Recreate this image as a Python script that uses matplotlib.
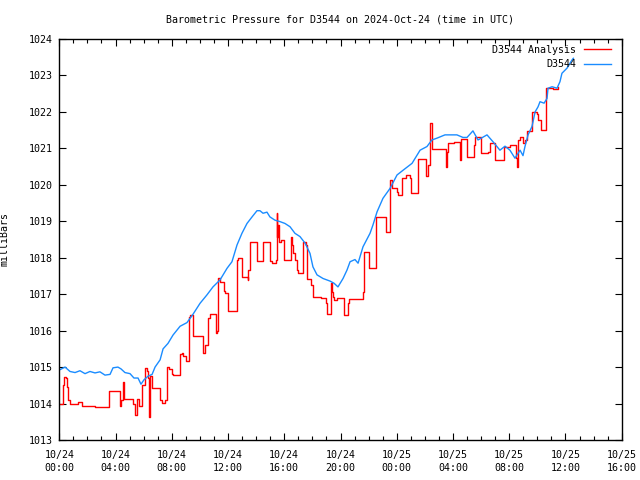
import numpy as np
import matplotlib
matplotlib.use("Agg")
import matplotlib.pyplot as plt
from matplotlib.ticker import MultipleLocator, FixedLocator

# hours since 2024-10-24 00:00 UTC
blue_t = [0.0, 0.41, 0.76, 1.12, 1.47, 1.83, 2.18, 2.54, 2.89, 3.25, 3.61, 3.82, 4.17,
          4.39, 4.67, 5.03, 5.31, 5.6, 5.81, 6.02, 6.31, 6.6, 6.81, 7.17, 7.38, 7.73,
          8.09, 8.59, 9.08, 9.51, 10.01, 10.5, 10.93, 11.43, 11.93, 12.28, 12.64, 12.99,
          13.35, 13.71, 14.06, 14.27, 14.49, 14.77, 14.98, 15.34, 15.7, 16.05, 16.41,
          16.76, 17.12, 17.48, 17.83, 18.04, 18.33, 18.76, 19.25, 19.54, 19.82, 20.18,
          20.46, 20.68, 21.03, 21.25, 21.6, 22.1, 22.31, 22.6, 23.02, 23.52, 24.02,
          24.45, 25.09, 25.66, 26.15, 26.5, 26.86, 27.43, 28.28, 28.71, 29.0, 29.42,
          29.78, 30.42, 30.85, 31.34, 31.7, 32.05, 32.41, 32.77, 32.98, 33.12, 33.34,
          33.62, 33.84, 34.05, 34.19, 34.48, 34.69, 34.76, 35.05, 35.4, 35.61, 35.75,
          36.11, 36.46, 36.56]
blue_p = [1014.92, 1015.0, 1014.88, 1014.85, 1014.9, 1014.82, 1014.88, 1014.84, 1014.87,
          1014.78, 1014.8, 1014.98, 1015.0, 1014.95, 1014.85, 1014.82, 1014.7, 1014.7,
          1014.53, 1014.65, 1014.75, 1014.8, 1015.0, 1015.2, 1015.5, 1015.65, 1015.88,
          1016.12, 1016.22, 1016.45, 1016.75, 1016.98, 1017.2, 1017.39, 1017.71, 1017.89,
          1018.35, 1018.67, 1018.94, 1019.12, 1019.29, 1019.29, 1019.22, 1019.25, 1019.12,
          1019.03, 1018.99, 1018.94, 1018.85, 1018.67, 1018.58, 1018.4, 1018.12, 1017.75,
          1017.53, 1017.43, 1017.36, 1017.3, 1017.2, 1017.43, 1017.66, 1017.89, 1017.95,
          1017.85, 1018.3, 1018.67, 1018.9, 1019.26, 1019.63, 1019.9, 1020.27, 1020.4,
          1020.59, 1020.95, 1021.05, 1021.23, 1021.28, 1021.37, 1021.37, 1021.3, 1021.3,
          1021.48, 1021.23, 1021.37, 1021.18, 1020.95, 1021.06, 1020.95, 1020.73, 1020.95,
          1020.8, 1021.05, 1021.37, 1021.6, 1022.0, 1022.14, 1022.28, 1022.24, 1022.37,
          1022.65, 1022.69, 1022.65, 1022.83, 1023.06, 1023.2, 1023.42, 1023.47]

# analysis: step levels starting at each time
red_t = [0.0, 0.26, 0.33, 0.48, 0.55, 0.65, 0.76, 1.33, 1.61, 2.54, 3.5, 4.32, 4.39, 4.51,
         4.6, 5.24, 5.38, 5.53, 5.67, 5.88, 6.1, 6.24, 6.31, 6.4, 6.45, 6.57, 6.74, 7.16,
         7.28, 7.54, 7.66, 7.8, 8.0, 8.11, 8.58, 8.73, 8.82, 9.01, 9.22, 9.29, 9.51, 10.2,
         10.36, 10.55, 10.72, 11.15, 11.24, 11.29, 11.43, 11.71, 11.8, 12.02, 12.62, 12.69,
         13.02, 13.4, 13.44, 13.56, 14.04, 14.51, 14.99, 15.11, 15.39, 15.46, 15.5, 15.57,
         15.65, 15.75, 16.0, 16.48, 16.55, 16.64, 16.76, 16.88, 16.98, 17.35, 17.54, 17.64,
         17.88, 18.02, 18.07, 18.61, 18.97, 19.02, 19.31, 19.38, 19.45, 19.54, 19.73,
         20.25, 20.56, 20.6, 21.62, 21.69, 22.05, 22.5, 23.24, 23.52, 23.64, 24.0, 24.11,
         24.35, 24.66, 24.94, 25.01, 25.53, 26.08, 26.25, 26.37, 26.49, 27.5, 27.6, 27.67,
         28.07, 28.5, 28.57, 28.98, 29.49, 29.56, 29.97, 30.49, 30.63, 30.99, 31.63, 32.05,
         32.47, 32.57, 32.65, 32.77, 33.0, 33.12, 33.26, 33.6, 33.98, 34.07, 34.24, 34.65,
         35.13, 35.48]
red_p = [1013.98, 1014.5, 1014.72, 1014.7, 1014.46, 1014.1, 1014.0, 1014.03, 1013.94,
         1013.91, 1014.35, 1013.92, 1014.1, 1014.6, 1014.12, 1014.0, 1013.68, 1014.12,
         1013.92, 1014.5, 1014.97, 1014.9, 1014.7, 1013.62, 1014.75, 1014.44, 1014.43,
         1014.1, 1014.02, 1014.1, 1015.01, 1014.95, 1014.8, 1014.78, 1015.37, 1015.4,
         1015.3, 1015.17, 1016.38, 1016.43, 1015.86, 1015.39, 1015.6, 1016.35, 1016.47,
         1015.93, 1016.0, 1017.44, 1017.34, 1017.1, 1017.04, 1016.55, 1017.94, 1017.98,
         1017.48, 1017.4, 1017.66, 1018.44, 1017.92, 1018.43, 1017.92, 1017.86, 1017.95,
         1019.22, 1018.58, 1018.9, 1018.44, 1018.49, 1017.94, 1018.58, 1018.35, 1018.12,
         1017.94, 1017.66, 1017.57, 1018.44, 1018.35, 1017.43, 1017.25, 1017.11, 1016.93,
         1016.89, 1016.75, 1016.46, 1017.3, 1017.07, 1016.93, 1016.84, 1016.89, 1016.43,
         1016.75, 1016.87, 1017.07, 1018.15, 1017.73, 1019.11, 1018.7, 1020.13, 1019.9,
         1019.8, 1019.72, 1020.18, 1020.27, 1020.2, 1019.77, 1020.7, 1020.24, 1020.55,
         1021.69, 1020.97, 1020.5, 1020.9, 1021.14, 1021.18, 1020.68, 1021.25, 1020.75,
         1021.09, 1021.32, 1020.86, 1020.9, 1021.14, 1020.68, 1021.05, 1021.09, 1020.73,
         1020.5, 1021.23, 1021.32, 1021.14, 1021.23, 1021.48, 1022.0, 1021.93, 1021.78,
         1021.5, 1022.65, 1022.62, 1022.69]

tick_hours = [0, 4, 8, 12, 16, 20, 24, 28, 32, 36, 40]
tick_labels = ["10/24\n00:00", "10/24\n04:00", "10/24\n08:00", "10/24\n12:00",
               "10/24\n16:00", "10/24\n20:00", "10/25\n00:00", "10/25\n04:00",
               "10/25\n08:00", "10/25\n12:00", "10/25\n16:00"]

plt.rcParams['font.family'] = ['DejaVu Sans Mono']
fs = 7.2

fig = plt.figure(figsize=(6.4, 4.8), dpi=100)
ax = fig.add_axes([59.3 / 640, 40 / 480, 562.4 / 640, 401 / 480])

ax.plot(red_t, red_p, color='#ff0000', lw=1.0, drawstyle='steps-post', label='D3544 Analysis')
ax.plot(blue_t, blue_p, color='#1a8cff', lw=1.0, label='D3544')

ax.set_xlim(0, 40)
ax.set_ylim(1013, 1024)
ax.xaxis.set_major_locator(FixedLocator(tick_hours))
ax.set_xticklabels(tick_labels, fontsize=fs, linespacing=1.35)
ax.xaxis.set_minor_locator(MultipleLocator(1))
ax.yaxis.set_major_locator(MultipleLocator(1))
ax.tick_params(axis='y', labelsize=fs)
ax.tick_params(which='both', direction='in', top=True, right=True, width=0.8)
ax.tick_params(which='major', length=5, pad=5)
ax.tick_params(axis='x', which='major', pad=7)
ax.tick_params(which='minor', length=3)
ax.yaxis.set_major_formatter(matplotlib.ticker.FormatStrFormatter('%d'))
for s in ax.spines.values():
    s.set_linewidth(1.0)

ax.set_ylabel('milliBars', fontsize=fs)
ax.yaxis.set_label_coords(-0.0877, 0.5)

fig.text(340 / 640, 1 - 19 / 480, 'Barometric Pressure for D3544 on 2024-Oct-24 (time in UTC)',
         ha='center', va='center', fontsize=fs)

ax.legend(loc='upper right', frameon=False, fontsize=fs, markerfirst=False,
          handlelength=2.7, labelspacing=0.45, borderaxespad=0.3, borderpad=0.3,
          handletextpad=0.8, bbox_to_anchor=(0.992, 1.0))

fig.savefig('out.png', dpi=100)
